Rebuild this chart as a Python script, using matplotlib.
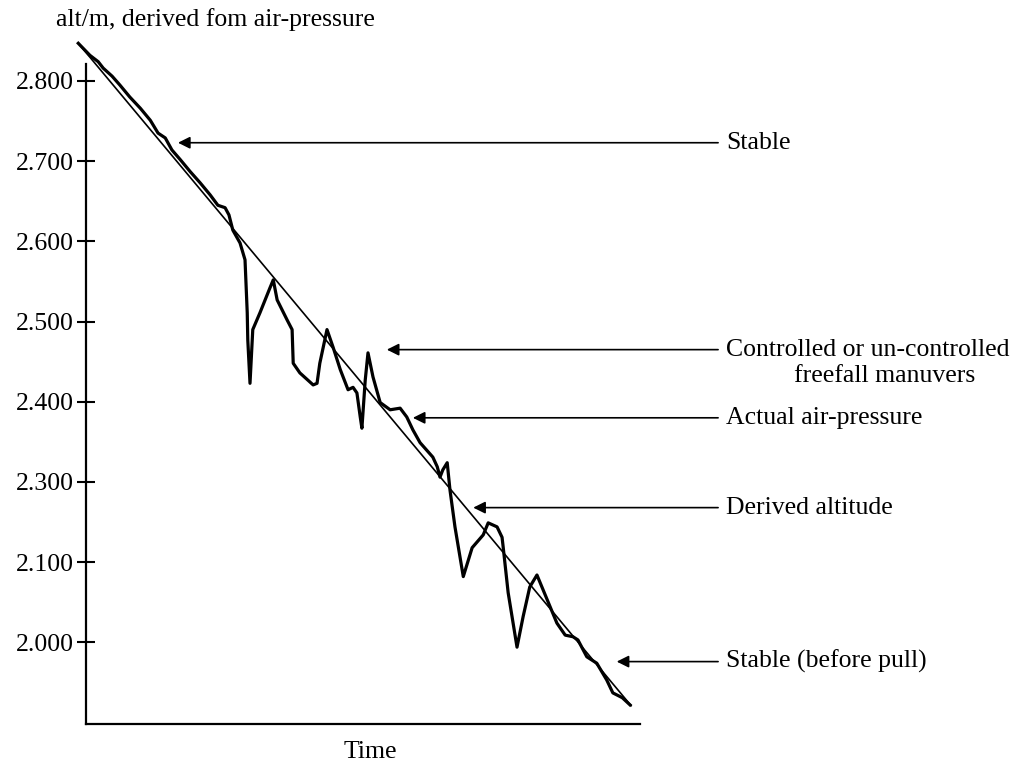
import matplotlib
matplotlib.use('Agg')
import matplotlib.pyplot as plt

# actual air-pressure trace (time in s, altitude in m)
time_s = [-1.4, 0.7, 2.2, 3.1, 4.7, 6.1, 7.9, 9.8, 11.6, 13.0, 14.3, 15.5, 17.0,
          18.8, 20.6, 22.4, 23.8, 25.1, 25.8, 26.5, 27.8, 28.7, 29.1, 29.2, 29.6,
          30.1, 31.4, 33.2, 33.8, 34.5, 36.3, 37.2, 37.4, 38.6, 41.0, 41.7, 42.2,
          43.5, 44.6, 45.9, 47.3, 48.2, 48.9, 49.5, 49.8, 50.4, 50.9, 51.8, 53.1,
          54.9, 56.7, 57.9, 59.0, 60.3, 62.6, 63.4, 63.9, 64.4, 65.2, 65.7, 66.6,
          68.1, 69.7, 71.7, 72.6, 74.2, 75.1, 75.3, 76.2, 77.8, 78.9, 80.1, 81.4,
          82.3, 83.8, 85.0, 86.5, 87.9, 88.8, 90.4, 92.2, 94.0, 95.1, 96.8, 98.2]
pressure_alt = [2847, 2832, 2824, 2816, 2806, 2795, 2780, 2766, 2751, 2735, 2729,
                2714, 2702, 2687, 2673, 2658, 2645, 2642, 2633, 2614, 2598, 2577,
                2511, 2477, 2423, 2490, 2511, 2542, 2552, 2527, 2502, 2490, 2448,
                2436, 2421, 2423, 2448, 2490, 2468, 2440, 2415, 2418, 2411, 2381,
                2367, 2427, 2461, 2431, 2399, 2390, 2392, 2381, 2365, 2349, 2331,
                2319, 2306, 2315, 2324, 2290, 2244, 2182, 2218, 2234, 2249, 2244,
                2231, 2219, 2162, 2094, 2132, 2169, 2184, 2169, 2144, 2124, 2109,
                2107, 2103, 2082, 2074, 2053, 2037, 2031, 2022]

# derived altitude (straight fit)
derived_t = [-1.4, 98.4]
derived_alt = [2847, 2021]

ytick_pos = [2800, 2700, 2600, 2500, 2400, 2300, 2200, 2100]
ytick_labels = ["2.800", "2.700", "2.600", "2.500", "2.400", "2.300", "2.100", "2.000"]

# (label, arrow tip t, arrow tip alt)
notes = [
    ("Stable", 16.6, 2723),
    ("Controlled or un-controlled\nfreefall manuvers", 54.3, 2465),
    ("Actual air-pressure", 59.0, 2380),
    ("Derived altitude", 69.9, 2268),
    ("Stable (before pull)", 95.8, 2076),
]

plt.rcParams['font.family'] = ['Liberation Serif', 'DejaVu Serif']
fs = 18.5

fig = plt.figure(figsize=(10.23, 7.68), dpi=100)
ax = fig.add_axes([0.0841, 0.0573, 0.5415, 0.8594])
ax.set_xlim(0, 100)
ax.set_ylim(1998.2, 2821.2)

ax.plot(derived_t, derived_alt, color='black', lw=1.2, clip_on=False)
ax.plot(time_s, pressure_alt, color='black', lw=2.3, clip_on=False,
        solid_joinstyle='round')

for s in ['top', 'right']:
    ax.spines[s].set_visible(False)
for s in ['left', 'bottom']:
    ax.spines[s].set_linewidth(1.6)

ax.set_xticks([])
ax.set_yticks(ytick_pos)
ax.set_yticklabels(ytick_labels)
ax.tick_params(axis='y', direction='inout', length=13, width=1.5,
               labelsize=fs, pad=2)

line_start = 114.1
text_x = 115.5
for label, tx, ty in notes:
    ax.annotate('', xy=(tx, ty), xytext=(line_start, ty),
                arrowprops=dict(arrowstyle='-|>', color='black', lw=1.2,
                                mutation_scale=18, shrinkA=0, shrinkB=0),
                annotation_clip=False)
    if '\n' in label:
        first, second = label.split('\n')
        ax.text(text_x, ty, first, fontsize=fs, ha='left', va='center')
        # second line centred under the first
        ax.text(144.2, ty - 33, second, fontsize=fs, ha='center', va='center')
    else:
        ax.text(text_x, ty, label, fontsize=fs, ha='left', va='center')

fig.text(215 / 1023, 1 - 20 / 768, "alt/m, derived fom air-pressure",
         fontsize=fs, ha='center', va='center')
fig.text(370 / 1023, 1 - 752 / 768, "Time", fontsize=fs, ha='center', va='center')

fig.savefig('out.png', dpi=100)
